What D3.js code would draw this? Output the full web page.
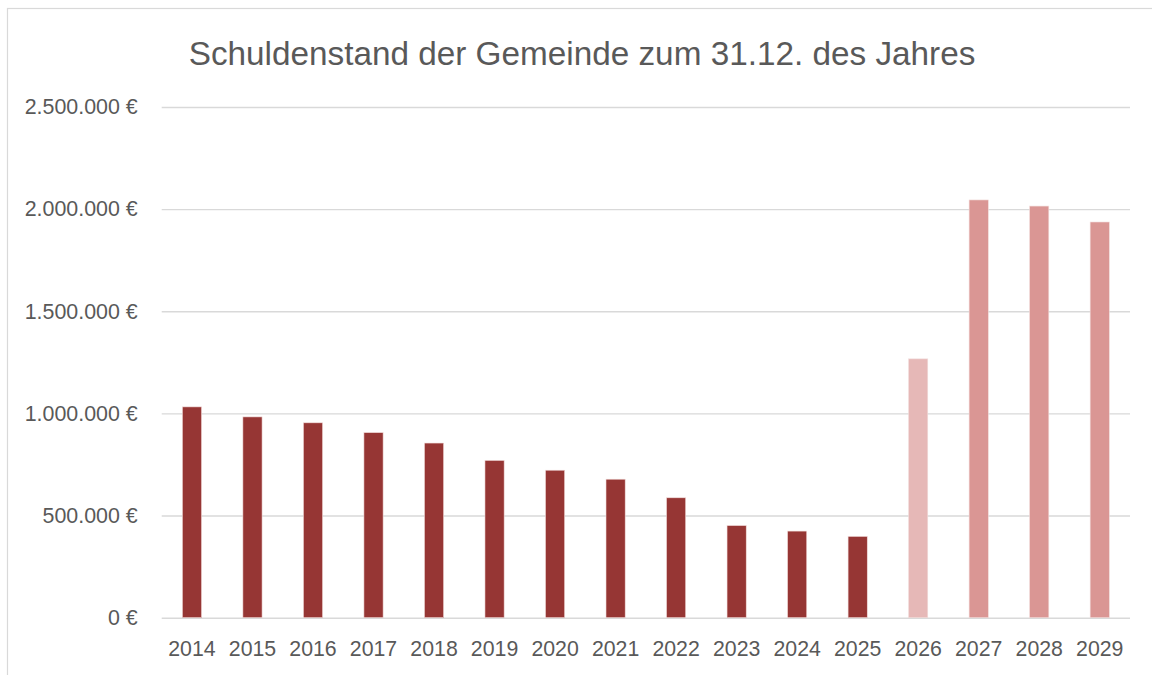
<!DOCTYPE html>
<html>
<head>
<meta charset="utf-8">
<script src="https://cdn.jsdelivr.net/npm/d3@7"></script>
<style>
  body { margin: 0; background: #fff; }
  svg text { font-family: "Liberation Sans", Arial, sans-serif; fill: #595959; }
</style>
</head>
<body>
<svg id="chart"></svg>
<script>
const years = ['2014', '2015', '2016', '2017', '2018', '2019', '2020', '2021',
  '2022', '2023', '2024', '2025', '2026', '2027', '2028', '2029'];
const debt = [1032000, 983000, 954000, 906000, 855000, 770000, 722000, 678000,
  587000, 451000, 424000, 398000, 1267000, 2045000, 2015000, 1937000];
const kind = ['ist', 'ist', 'ist', 'ist', 'ist', 'ist', 'ist', 'ist',
  'ist', 'ist', 'ist', 'ist', 'haushalt', 'plan', 'plan', 'plan'];
const yTicks = [0, 500000, 1000000, 1500000, 2000000, 2500000];
const title = 'Schuldenstand der Gemeinde zum 31.12. des Jahres';

(function() {
  const W = 1152, H = 675;
  const left = 161.7, right = 1130, top = 107, bottom = 617.7;

  const svg = d3.select('svg#chart')
    .attr('width', W)
    .attr('height', H);

  // chart frame, runs off the right and bottom edge like in the screenshot
  svg.append('rect')
    .attr('x', 7.5).attr('y', 8.5)
    .attr('width', 1200).attr('height', 700)
    .attr('fill', 'none')
    .attr('stroke', '#d9d9d9')
    .attr('stroke-width', 1.2);

  const de = d3.formatLocale({
    decimal: ',', thousands: '.', grouping: [3], currency: ['', ' €']
  });

  const yScale = d3.scaleLinear()
    .domain([0, 2500000])
    .range([bottom, top]);

  const xScale = d3.scaleBand()
    .domain(years)
    .range([left, right])
    .paddingInner(0.683)
    .paddingOuter(0.683 / 2);

  const color = d3.scaleOrdinal()
    .domain(['ist', 'haushalt', 'plan'])
    .range(['#963634', '#e6b8b7', '#da9694']);

  // grid + y labels
  const yAxis = svg.append('g')
    .attr('transform', `translate(${left}, 0)`)
    .call(d3.axisLeft(yScale)
      .tickValues(yTicks)
      .tickSize(-(right - left))
      .tickPadding(24)
      .tickFormat(de.format('$,.0f')));
  yAxis.select('.domain').remove();
  yAxis.selectAll('line')
    .attr('stroke', '#d9d9d9')
    .attr('stroke-width', 1.4);
  yAxis.selectAll('text')
    .attr('font-size', 21.4)
    .attr('font-family', null)
    .attr('fill', '#595959');

  const rows = years.map((y, i) => ({ year: y, value: debt[i], kind: kind[i] }));

  svg.append('g')
    .selectAll('rect')
    .data(rows)
    .enter()
    .append('rect')
    .attr('x', (d) => xScale(d.year))
    .attr('y', (d) => yScale(d.value))
    .attr('width', xScale.bandwidth())
    .attr('height', (d) => bottom - yScale(d.value))
    .attr('fill', (d) => color(d.kind))
    .attr('stroke', '#f2dcdb')
    .attr('stroke-width', 0.6);

  const xAxis = svg.append('g')
    .attr('transform', `translate(0, ${bottom})`)
    .call(d3.axisBottom(xScale).tickSize(0).tickPadding(23));
  xAxis.select('.domain').remove();
  xAxis.selectAll('text')
    .attr('font-size', 21.3)
    .attr('font-family', null)
    .attr('fill', '#595959');

  svg.append('text')
    .attr('x', 582)
    .attr('y', 65)
    .attr('text-anchor', 'middle')
    .attr('font-size', 33.3)
    .text(title);
})();
</script>
</body>
</html>
